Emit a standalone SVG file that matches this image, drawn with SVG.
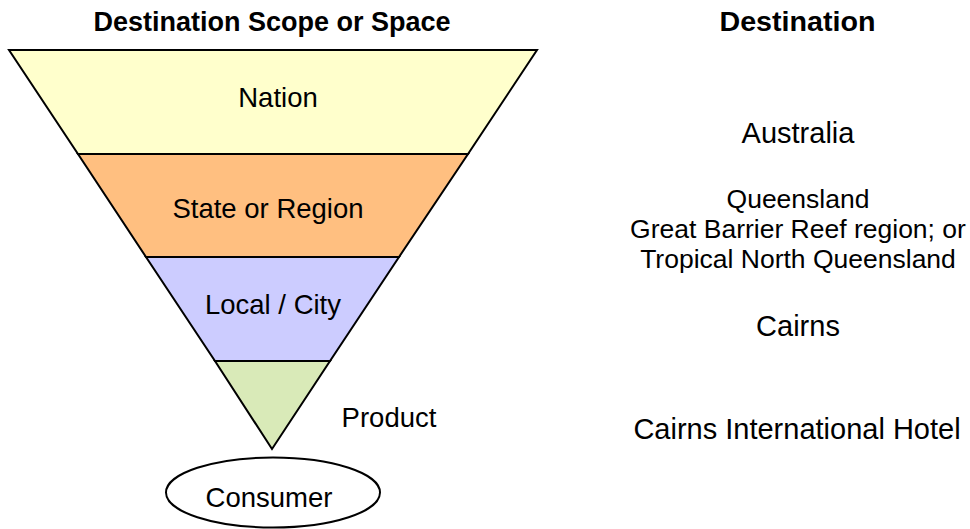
<svg xmlns="http://www.w3.org/2000/svg" width="970" height="529" viewBox="0 0 970 529">
<style>
text{font-family:"Liberation Sans",Arial,sans-serif;fill:#000;text-anchor:middle}
.h{font-weight:bold;font-size:27px}
.t{font-size:27.5px}
.r{font-size:29px}
.s{font-size:26.5px}
.band{stroke:#000;stroke-width:2;stroke-linejoin:miter}
</style>
<rect width="970" height="529" fill="#fff"/>
<text class="h" x="272" y="31">Destination Scope or Space</text>
<text class="h" x="797.5" y="31" textLength="156" lengthAdjust="spacingAndGlyphs">Destination</text>
<g id="nation">
<polygon class="band" points="9,50 537,50 468,154 78,154" fill="#FFFFCC"/>
<text class="t" x="278" y="107">Nation</text>
</g>
<g id="state">
<polygon class="band" points="78,154 468,154 399,257 146,257" fill="#FFBF80"/>
<text class="t" x="268" y="218">State or Region</text>
</g>
<g id="local">
<polygon class="band" points="146,257 399,257 330,361 215,361" fill="#CCCCFF"/>
<text class="t" x="273" y="314">Local / City</text>
</g>
<g id="product">
<polygon class="band" points="215,361 330,361 272,449" fill="#D9EAB8"/>
<text class="t" x="389" y="427">Product</text>
</g>
<g id="consumer">
<ellipse cx="273" cy="492.5" rx="107" ry="35" fill="#fff" stroke="#000" stroke-width="2"/>
<text class="t" x="269" y="507">Consumer</text>
</g>
<g id="destinations">
<text class="r" x="798" y="143">Australia</text>
<text class="s" x="798" y="208">Queensland</text>
<text class="s" x="798" y="238">Great Barrier Reef region; or</text>
<text class="s" x="798" y="268">Tropical North Queensland</text>
<text class="r" x="798" y="336">Cairns</text>
<text class="r" x="797" y="439">Cairns International Hotel</text>
</g>
<g id="connectors"></g>
</svg>
